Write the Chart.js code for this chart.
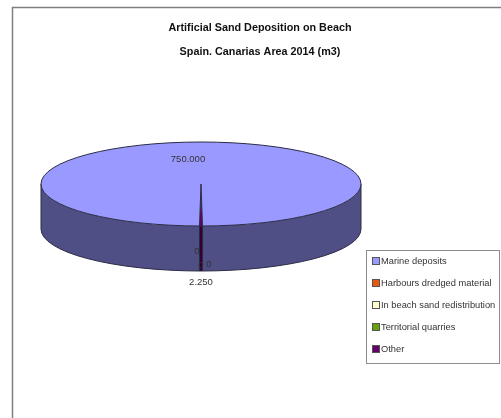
<!DOCTYPE html>
<html>
<head>
<meta charset="utf-8">
<title>Artificial Sand Deposition on Beach</title>
<script src="https://cdn.jsdelivr.net/npm/chart.js@4/dist/chart.umd.min.js"></script>
<style>
    html, body { margin: 0; padding: 0; background: #fff; overflow: hidden; }
    canvas { display: block; }
</style>
</head>
<body>
<canvas id="sandChart" width="501" height="418"></canvas>
<script>
const titleLines = ['Artificial Sand Deposition on Beach', 'Spain. Canarias Area 2014 (m3)'];
const categories = ['Marine deposits', 'Harbours dredged material', 'In beach sand redistribution', 'Territorial quarries', 'Other'];
const volumes = [750000, 0, 0, 0, 2250];
const sliceColors = ['#9999ff', '#e8590f', '#ffffcc', '#66a308', '#660066'];
const wallColors = ['#4f4f85', '#7a2e08', '#85856a', '#345404', '#330033'];

// Where the ellipse sits on the page
const pie3d = { cx: 201, cy: 184, rx: 160, ry: 42, depth: 45 };
const legendBox = { x: 366, y: 250, w: 133, h: 113, firstRow: 261, rowGap: 22 };
// Value label anchors, same order as the slices (the 0 slices share the bottom edge)
const labelSpots = [[188, 159], [197, 251], [201, 265], [209, 264], [201, 282]];

const formatVolume = v => String(v).replace(/\B(?=(\d{3})+$)/g, '.');

function arcsOf(chart) {
    return chart.getDatasetMeta(0).data;
}

// Side wall of one slice, only the part that faces the viewer
function drawWall(ctx, from, to, color) {
    const { cx, cy, rx, ry, depth } = pie3d;
    ctx.beginPath();
    ctx.ellipse(cx, cy, rx, ry, 0, from, to);
    ctx.ellipse(cx, cy + depth, rx, ry, 0, to, from, true);
    ctx.closePath();
    ctx.fillStyle = color;
    ctx.fill();
}

const pieDepth = {
    id: 'pieDepth',
    beforeDraw(chart) {
        // Outer frame, open on the right and at the bottom
        const ctx = chart.ctx;
        ctx.save();
        ctx.strokeStyle = '#808080';
        ctx.lineWidth = 1.5;
        ctx.beginPath();
        ctx.moveTo(12.5, 418);
        ctx.lineTo(12.5, 7.5);
        ctx.lineTo(501, 7.5);
        ctx.stroke();
        ctx.restore();
    },
    beforeDatasetDraw(chart) {
        const ctx = chart.ctx;
        const arcs = arcsOf(chart);
        const { cx, cy, rx, ry, depth } = pie3d;

        ctx.save();
        arcs.forEach((arc, i) => {
            if (!volumes[i]) return;
            [0, 2 * Math.PI].forEach(turn => {
                const from = Math.max(arc.startAngle, turn);
                const to = Math.min(arc.endAngle, turn + Math.PI);
                if (to > from) drawWall(ctx, from, to, wallColors[i]);
            });
        });

        // Wall outline
        ctx.strokeStyle = '#2b2b45';
        ctx.lineWidth = 1;
        ctx.beginPath();
        ctx.moveTo(cx - rx, cy);
        ctx.lineTo(cx - rx, cy + depth);
        ctx.ellipse(cx, cy + depth, rx, ry, 0, Math.PI, 0, true);
        ctx.lineTo(cx + rx, cy);
        ctx.stroke();
        ctx.restore();

        // Squash the flat pie down to the top face
        const first = arcs[0];
        ctx.save();
        ctx.translate(cx, cy);
        ctx.scale(rx / first.outerRadius, ry / first.outerRadius);
        ctx.translate(-first.x, -first.y);
    },
    afterDatasetDraw(chart) {
        const ctx = chart.ctx;
        const { cx, cy, rx, ry, depth } = pie3d;
        ctx.restore();

        ctx.save();
        ctx.strokeStyle = '#2b2b45';
        ctx.lineWidth = 1;
        ctx.beginPath();
        ctx.ellipse(cx, cy, rx, ry, 0, 0, 2 * Math.PI);
        ctx.stroke();

        // Slice edges on the top face and down the wall
        arcsOf(chart).forEach((arc, i) => {
            if (!volumes[i]) return;
            const ex = cx + rx * Math.cos(arc.startAngle);
            const ey = cy + ry * Math.sin(arc.startAngle);
            ctx.beginPath();
            ctx.moveTo(cx, cy);
            ctx.lineTo(ex, ey);
            ctx.lineTo(ex, ey + depth);
            ctx.stroke();
        });
        ctx.restore();
    },
    afterDraw(chart) {
        const ctx = chart.ctx;
        ctx.save();

        // Value labels
        ctx.font = '9.5px "Liberation Sans"';
        ctx.fillStyle = '#333';
        ctx.textAlign = 'center';
        ctx.textBaseline = 'middle';
        volumes.forEach((v, i) => {
            ctx.fillText(formatVolume(v), labelSpots[i][0], labelSpots[i][1]);
        });

        // Legend
        const { x, y, w, h, firstRow, rowGap } = legendBox;
        ctx.strokeStyle = '#8c8c8c';
        ctx.lineWidth = 1;
        ctx.strokeRect(x + 0.5, y + 0.5, w, h);
        ctx.textAlign = 'left';
        ctx.font = '9.3px "Liberation Sans"';
        categories.forEach((name, i) => {
            const rowY = firstRow + i * rowGap;
            ctx.fillStyle = sliceColors[i];
            ctx.fillRect(x + 7, rowY - 3, 6, 6);
            ctx.strokeStyle = '#555';
            ctx.strokeRect(x + 6.5, rowY - 3.5, 7, 7);
            ctx.fillStyle = '#333';
            ctx.fillText(name, x + 15, rowY + 0.5);
        });
        ctx.restore();
    }
};

new Chart(document.getElementById('sandChart'), {
    type: 'pie',
    data: {
        labels: categories,
        datasets: [{
            data: volumes,
            backgroundColor: sliceColors,
            borderWidth: 0,
            clip: false
        }]
    },
    options: {
        responsive: false,
        animation: false,
        rotation: 180.54,
        layout: { padding: { left: 19, top: 16 } },
        plugins: {
            legend: { display: false },
            tooltip: { enabled: false },
            title: {
                display: true,
                text: titleLines,
                color: '#111',
                font: { family: '"Liberation Sans"', size: 10.8, weight: 'bold', lineHeight: 2.22 },
                padding: 0
            }
        }
    },
    plugins: [pieDepth]
});
</script>
</body>
</html>
